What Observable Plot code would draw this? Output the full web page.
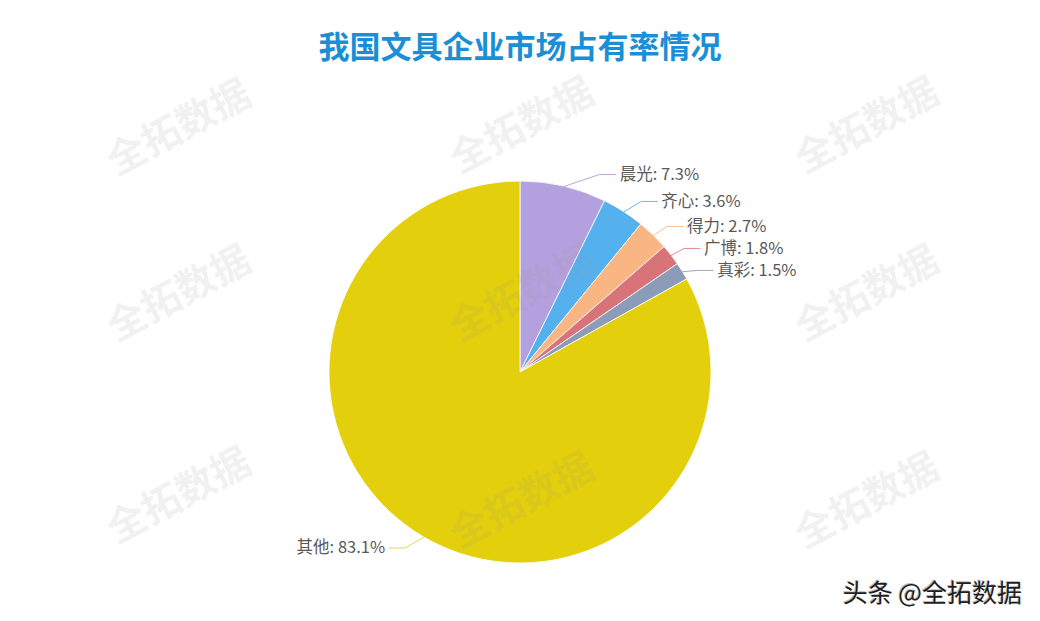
<!DOCTYPE html>
<html>
<head>
<meta charset="utf-8">
<script src="https://cdn.jsdelivr.net/npm/d3@7"></script>
<script src="https://cdn.jsdelivr.net/npm/@observablehq/plot@0.6"></script>
<style>
  html, body { margin: 0; padding: 0; background: #fff; }
  #page { position: relative; width: 1040px; height: 621px; overflow: hidden; font-family: "Noto Sans CJK SC", "Noto Sans", sans-serif; }
  #title { height: 70px; box-sizing: border-box; padding-top: 28px; line-height: 34px; text-align: center; font-size: 31px; font-weight: 700; color: #1a8ed6; }
  #chart svg { display: block; }
  #caption { position: absolute; right: 18px; bottom: 12px; font-size: 25px; color: #1e1e1e; text-shadow: 1px 1px 0 #fff, -1px -1px 0 #bbb; }
  #wm { position: absolute; left: 0; top: 0; width: 1040px; height: 621px; pointer-events: none; }
  .wmk { position: absolute; font-size: 39px; font-weight: 700; color: rgba(150,150,150,0.14); transform: translate(-50%, -50%) rotate(-28deg); white-space: nowrap; }
</style>
</head>
<body>
<div id="page">
  <div id="title">我国文具企业市场占有率情况</div>
  <div id="chart"></div>
  <div id="caption">头条 @全拓数据</div>
  <div id="wm"></div>
</div>
<script>
// ---- data ----
const brands = ["晨光", "齐心", "得力", "广博", "真彩", "其他"];
const shares = [7.3, 3.6, 2.7, 1.8, 1.5, 83.1];
const sliceColors = ["#b4a0df", "#55b0ee", "#f9b682", "#d9737a", "#8b9bb8", "#e3cf0b"];
const lineColors = ["#b8a6e0", "#6ab9ef", "#f7c095", "#dd8a90", "#9aa8c0", "#e6d65a"];
const watermarkText = "全拓数据";

// ---- layout in unit radius coordinates ----
const W = 1040, H = 551;
const unit = 191;
const kx = (W / 2) / unit;

const pie = d3.pie().sort(null).value(d => d.value).startAngle(0).endAngle(2 * Math.PI);
const table = brands.map((b, i) => ({name: b, value: shares[i], color: sliceColors[i], lineColor: lineColors[i]}));
const arcs = pie(table);

const labelRadius = 1.16;    // radius where label text begins
const labelYFactor = 1.065;  // vertical label placement
const minGap = 22 / unit;    // minimum vertical spacing between labels

const items = arcs.map(a => {
  const mid = (a.startAngle + a.endAngle) / 2;
  const sx = Math.sin(mid), cy = Math.cos(mid);
  return {a, sx, cy, side: sx >= 0 ? 1 : -1, ly: labelYFactor * cy};
});
// de-overlap labels on each side (top to bottom)
[1, -1].forEach(side => {
  const s = items.filter(d => d.side === side).sort((p, q) => q.ly - p.ly);
  for (let i = 1; i < s.length; i++) {
    if (s[i - 1].ly - s[i].ly < minGap) s[i].ly = s[i - 1].ly - minGap;
  }
});

const labels = [];
const lines = [];
items.forEach(({a, sx, cy, side, ly}) => {
  const tx = side * Math.sqrt(Math.max(0, labelRadius * labelRadius - ly * ly));
  labels.push({name: a.data.name, text: `${a.data.name}: ${a.data.value}%`, x: tx, y: ly, anchor: side > 0 ? "start" : "end"});
  lines.push({name: a.data.name, c: a.data.lineColor, x: sx, y: cy});
  lines.push({name: a.data.name, c: a.data.lineColor, x: tx - side * 0.105, y: ly});
  lines.push({name: a.data.name, c: a.data.lineColor, x: tx - side * 0.021, y: ly});
});

function pieMark(index, scales) {
  const x = scales.x, y = scales.y;
  const cx = x(0), cyy = y(0);
  const r = x(1) - x(0);
  const arcGen = d3.arc().innerRadius(0).outerRadius(r);
  const g = d3.create("svg:g").attr("transform", `translate(${cx},${cyy})`);
  g.selectAll("path").data(arcs).join("path")
    .attr("d", arcGen)
    .attr("fill", d => d.data.color)
    .attr("stroke", "#ffffff")
    .attr("stroke-width", 0.8)
    .attr("stroke-linejoin", "round");
  return g.node();
}

const plot = Plot.plot({
  width: W,
  height: H,
  margin: 0,
  x: {domain: [-kx, kx], axis: null},
  y: {domain: [-(H - 302) / unit, 302 / unit], axis: null},
  marks: [
    pieMark,
    Plot.line(lines, {x: "x", y: "y", z: "name", stroke: "c", strokeWidth: 1}),
    Plot.text(labels.filter(d => d.anchor === "start"), {x: "x", y: "y", text: "text", textAnchor: "start", fill: "#595959", fontSize: 16.5, fontFamily: "Noto Sans CJK SC"}),
    Plot.text(labels.filter(d => d.anchor === "end"), {x: "x", y: "y", text: "text", textAnchor: "end", fill: "#595959", fontSize: 16.5, fontFamily: "Noto Sans CJK SC"})
  ]
});
document.getElementById("chart").appendChild(plot);

// decorative watermark grid
const wm = document.getElementById("wm");
const cols = [177, 520, 865];
const rows = [[124, 122, 122], [290, 290, 290], [492, 497, 497]];
rows.forEach(r => r.forEach((yy, j) => {
  const d = document.createElement("div");
  d.className = "wmk";
  d.textContent = watermarkText;
  d.style.left = cols[j] + "px";
  d.style.top = yy + "px";
  wm.appendChild(d);
}));
</script>
</body>
</html>
